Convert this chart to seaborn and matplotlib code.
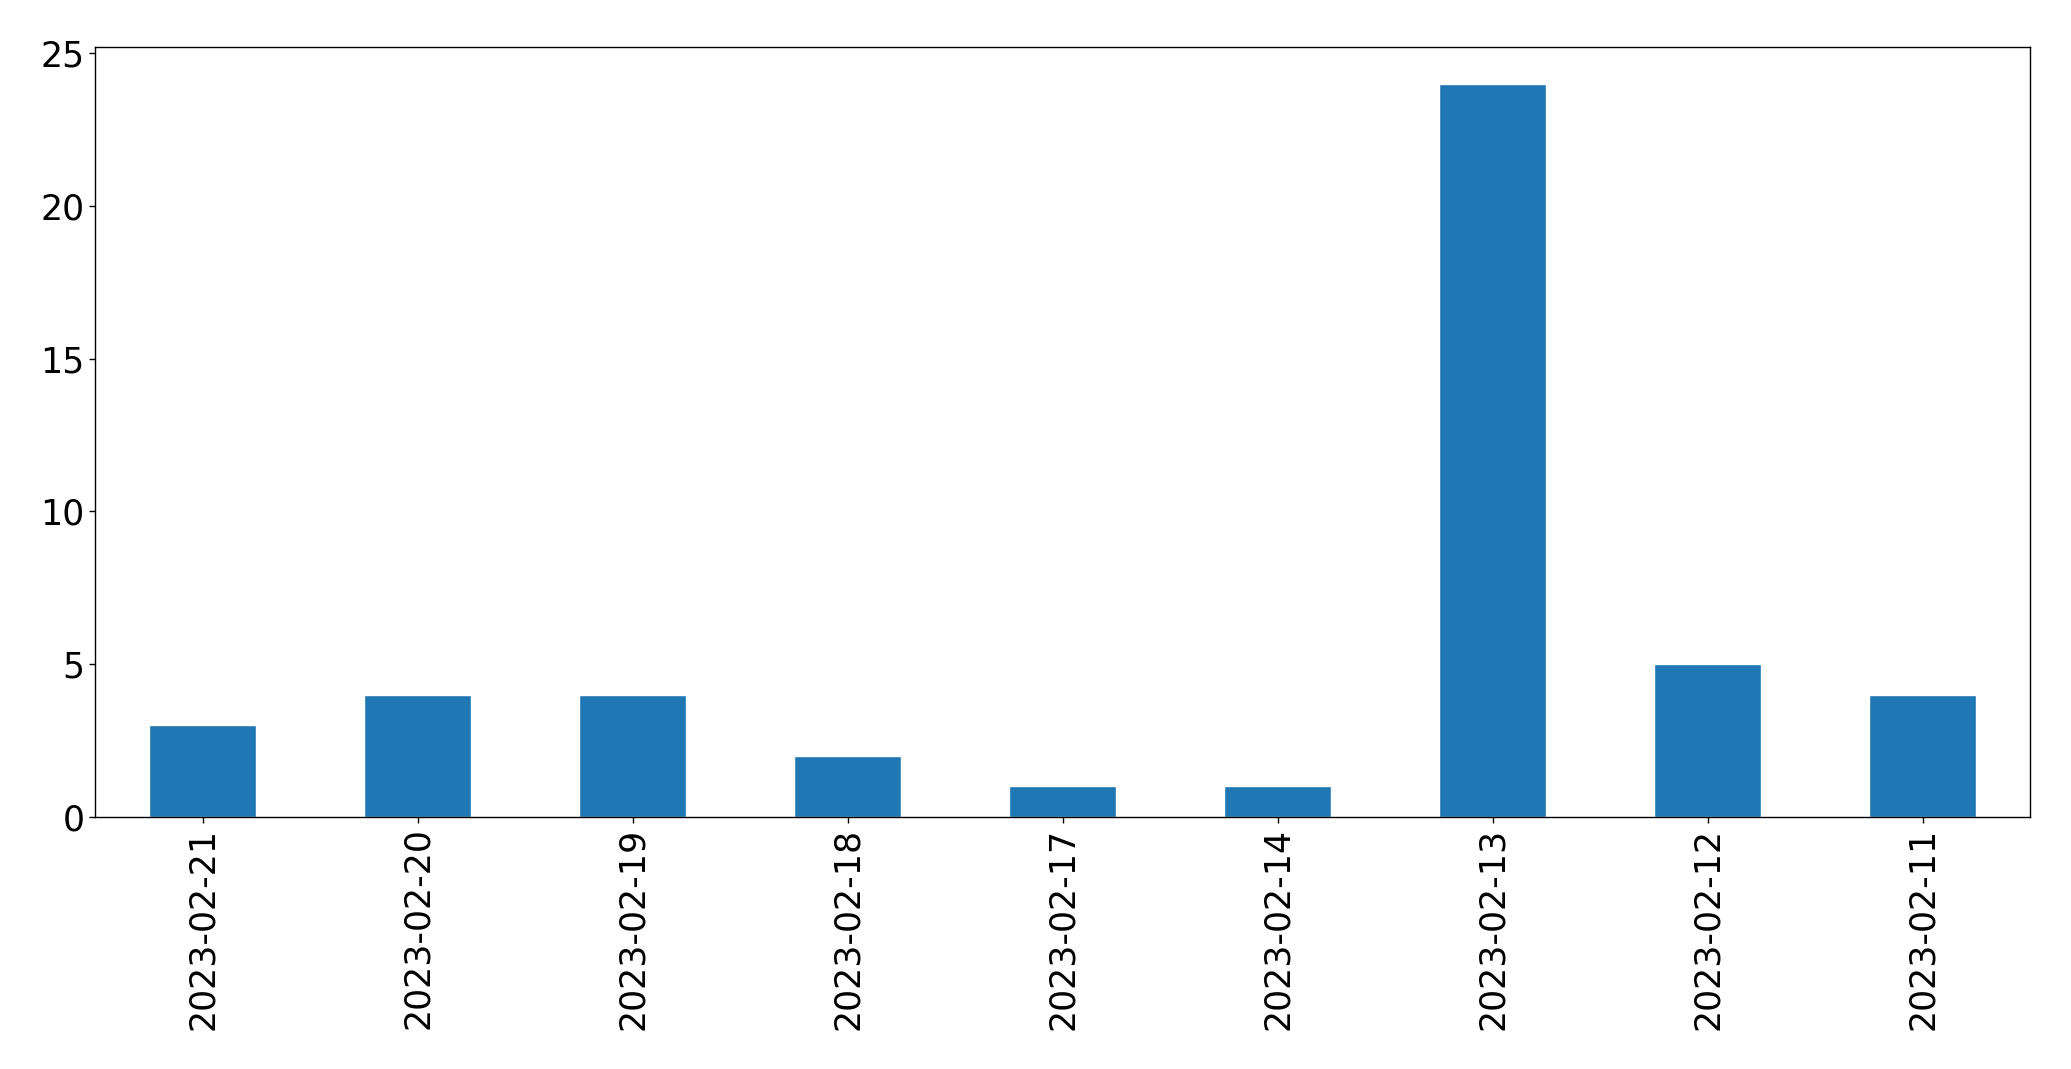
import pandas as pd
import matplotlib.pyplot as plt
import seaborn as sns

dates = ['2023-02-21', '2023-02-20', '2023-02-19', '2023-02-18', '2023-02-17',
         '2023-02-14', '2023-02-13', '2023-02-12', '2023-02-11']
counts = [3, 4, 4, 2, 1, 1, 24, 5, 4]

df = pd.DataFrame({'date': dates, 'count': counts})

sns.set_style('ticks')
plt.rcParams['font.family'] = ['DejaVu Sans']
plt.rcParams['xtick.color'] = 'black'
plt.rcParams['ytick.color'] = 'black'
plt.rcParams['text.color'] = 'black'

fig = plt.figure(figsize=(20.71, 10.69), dpi=100)
ax = fig.add_axes([0.0459, 0.2357, 0.9344, 0.7203])
sns.barplot(data=df, x='date', y='count', color='#1f77b4', saturation=1,
            width=0.5, ax=ax)
ax.set_xlabel('')
ax.set_ylabel('')
ax.set_xlim(-0.5, len(dates) - 0.5)
ax.set_ylim(0, 25.2)
ax.set_yticks([0, 5, 10, 15, 20, 25])
ax.tick_params(axis='both', labelsize=25, width=1, length=4,
               colors='black', labelcolor='black')
ax.tick_params(axis='x', labelrotation=90)
for s in ax.spines.values():
    s.set_visible(True)
    s.set_linewidth(1)
    s.set_color('black')

fig.savefig('out.png', dpi=100)
